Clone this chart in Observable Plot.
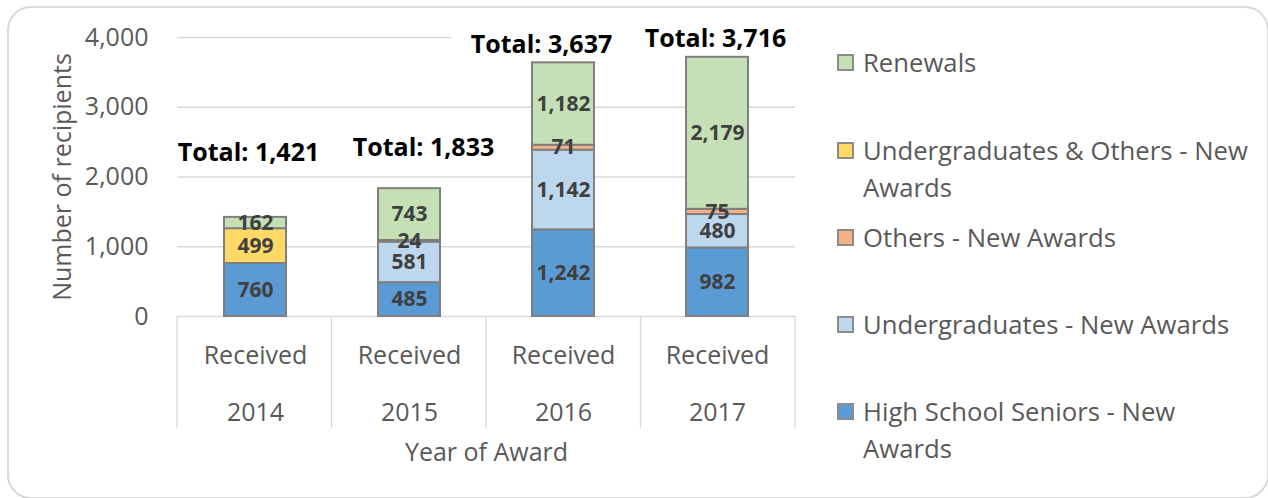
<!DOCTYPE html>
<html>
<head>
<meta charset="utf-8">
<script src="https://cdn.jsdelivr.net/npm/d3@7"></script>
<script src="https://cdn.jsdelivr.net/npm/@observablehq/plot@0.6"></script>
<style>
  html, body { margin: 0; padding: 0; background: #fff; }
  #wrap { position: relative; width: 1268px; height: 498px; overflow: hidden; background: #fff; font-family: "Open Sans", sans-serif; }
  #chart { position: absolute; left: 0; top: 0; }
  #border { position: absolute; left: 7px; top: 6px; width: 1262px; height: 493px; box-sizing: border-box;
            border: 2px solid #d9d9d9; border-radius: 24px; pointer-events: none; }
  .lg-item { position: absolute; left: 837px; width: 425px; }
  .lg-swatch { position: absolute; left: 0; top: 10px; width: 17px; height: 17px; box-sizing: border-box; border: 2px solid #8c8c8c; }
  .lg-text { position: absolute; left: 26px; top: 0; width: 398px; font-size: 25.7px; line-height: 37px; color: #595959; }
</style>
</head>
<body>
<div id="wrap">
  <div id="chart"></div>
  <div id="legend"></div>
  <div id="border"></div>
</div>
<script>
// ---- data ----
const years = ["2014", "2015", "2016", "2017"];
const categoryLabel = "Received";
const series = [
  "High School Seniors - New Awards",
  "Undergraduates - New Awards",
  "Others - New Awards",
  "Undergraduates & Others - New Awards",
  "Renewals"
];
const highSchool      = [760, 485, 1242, 982];
const undergrad       = [0, 581, 1142, 480];
const others          = [0, 24, 71, 75];
const undergradOthers = [499, 0, 0, 0];
const renewals        = [162, 743, 1182, 2179];
const colors = ["#5B9BD5", "#BDD7EE", "#F4B183", "#FFD966", "#C5E0B4"];
const yTicks = [0, 1000, 2000, 3000, 4000];
const yLabel = "Number of recipients";
const xLabel = "Year of Award";

// ---- derived table ----
const seriesValues = [highSchool, undergrad, others, undergradOthers, renewals];
const rows = [];
years.forEach((yr, i) => {
  seriesValues.forEach((vals, j) => {
    if (vals[i] > 0) rows.push({year: yr, series: series[j], value: vals[i]});
  });
});
const totals = years.map((_, i) => d3.sum(seriesValues, v => v[i]));
const fmt = d3.format(",");

// label offsets (pixels) for the "Total" labels, as placed in the original
const totalOffsets = [[-7, -64], [14, -41], [-22, -18], [-2, -18]];

const totalMarks = years.map((yr, i) => Plot.text([yr], {
  x: d => d, y: () => totals[i], text: () => "Total: " + fmt(totals[i]),
  dx: totalOffsets[i][0], dy: totalOffsets[i][1],
  fontSize: 25, fontWeight: "bold", fill: "#000",
  stroke: "white", strokeWidth: 5, paintOrder: "stroke"
}));
// white label boxes (as in the original) hiding the top gridline behind the two high totals
const boxMarks = years.map((yr, i) => i >= 2 ? Plot.text([yr], {
  x: d => d, y: () => totals[i], text: () => "Total: " + fmt(totals[i]),
  dx: totalOffsets[i][0], dy: totalOffsets[i][1],
  fontSize: 25, fontWeight: "bold", fill: "white",
  stroke: "white", strokeWidth: 40, strokeLinejoin: "round"
}) : null).filter(Boolean);

const plot = Plot.plot({
  width: 820,
  height: 498,
  marginLeft: 177,
  marginRight: 25,
  marginTop: 37,
  marginBottom: 182,
  style: {fontFamily: "'Open Sans', sans-serif", fontSize: "25px", color: "#595959", background: "transparent", overflow: "visible"},
  x: {domain: years, paddingInner: 0.6, paddingOuter: 0.3, axis: null},
  y: {domain: [0, 4000], axis: null},
  color: {domain: series, range: colors},
  marks: [
    Plot.gridY(yTicks, {stroke: "#d9d9d9", strokeOpacity: 1, strokeWidth: 1.3}),
    ...boxMarks,
    Plot.barY(rows, {x: "year", y: "value", fill: "series", order: series, stroke: "#7f7f7f", strokeWidth: 2}),
    Plot.text(rows, Plot.stackY({
      x: "year", y: "value", z: "series", order: series,
      text: d => fmt(d.value), fill: "#404040", fontWeight: "bold", fontSize: 21, lineAnchor: "middle"
    })),
    ...totalMarks,
    Plot.axisY({ticks: yTicks, tickFormat: d => fmt(d), tickSize: 0, tickPadding: 29, fontSize: 25, label: null}),
    Plot.text(years, {x: d => d, text: () => categoryLabel, frameAnchor: "bottom", lineAnchor: "middle", dy: 39, fontSize: 25, fill: "#595959"}),
    Plot.text(years, {x: d => d, text: d => d, frameAnchor: "bottom", lineAnchor: "middle", dy: 96, fontSize: 25, fill: "#595959"}),
    Plot.text([xLabel], {frameAnchor: "bottom", lineAnchor: "middle", textAnchor: "middle", dy: 136, fontSize: 25, fill: "#595959"}),
    Plot.text([yLabel], {frameAnchor: "left", rotate: -90, textAnchor: "middle", lineAnchor: "middle", dx: -115, fontSize: 25, fill: "#595959"})
  ]
});

// category separators of the two-level axis, placed with the plot's own scales
const xs = plot.scale("x");
const ys = plot.scale("y");
const [r0, r1] = xs.range;
const step = (r1 - r0) / years.length;
const yBase = ys.apply(0);
const sep = d3.select(plot).append("g").attr("stroke", "#d9d9d9").attr("stroke-width", 1.3);
for (let i = 0; i <= years.length; i++) {
  const xp = r0 + i * step;
  sep.append("line").attr("x1", xp).attr("x2", xp).attr("y1", yBase).attr("y2", yBase + 112);
}
document.getElementById("chart").appendChild(plot);

// ---- legend (top to bottom, reversed stack order) ----
const legendCenters = [62, 150, 237, 324, 411];
const legend = document.getElementById("legend");
series.slice().reverse().forEach((name, k) => {
  const idx = series.indexOf(name);
  const item = document.createElement("div");
  item.className = "lg-item";
  item.style.top = (legendCenters[k] - 18.5) + "px";
  const sw = document.createElement("div");
  sw.className = "lg-swatch";
  sw.style.background = colors[idx];
  const tx = document.createElement("div");
  tx.className = "lg-text";
  tx.textContent = name;
  item.appendChild(sw);
  item.appendChild(tx);
  legend.appendChild(item);
});
</script>
</body>
</html>
